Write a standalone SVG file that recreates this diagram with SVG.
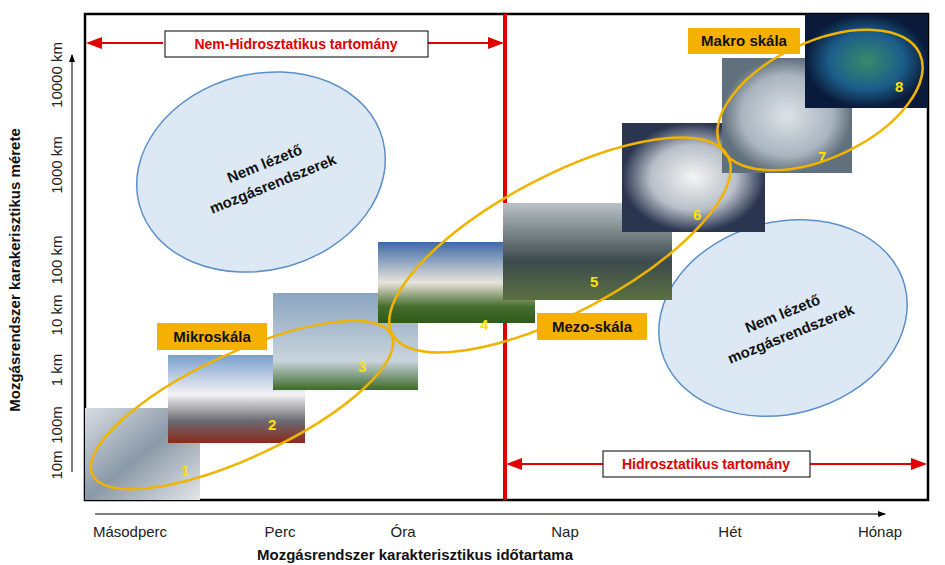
<svg xmlns="http://www.w3.org/2000/svg" width="945" height="565" viewBox="0 0 945 565">
<defs>
<style>
text{font-family:"Liberation Sans",Arial,sans-serif}
.ax{font-size:15px;fill:#222}
.num{font-size:15px;font-weight:bold;fill:#ffe000}
.lab{font-size:15px;font-weight:bold;fill:#111}
.red{font-size:14px;font-weight:bold;fill:#e00000}
.blue{fill:#dce9f4;stroke:#5b8fc9;stroke-width:1.5}
.yel{fill:none;stroke:#f0b400;stroke-width:2.5}
.tag{fill:#f5b000}
</style>
<marker id="ra" markerWidth="8" markerHeight="6" refX="7" refY="3" orient="auto-start-reverse"><path d="M0,0L8,3L0,6z" fill="#e00000"/></marker>
<marker id="ka" markerWidth="8" markerHeight="6" refX="7" refY="3" orient="auto"><path d="M0,0L8,3L0,6z" fill="#000"/></marker>
<linearGradient id="sky" x1="0" y1="0" x2="0" y2="1"><stop offset="0" stop-color="#8aa5c0"/><stop offset="0.7" stop-color="#c9d4dc"/><stop offset="1" stop-color="#3d6a2a"/></linearGradient>
<linearGradient id="mt" x1="0" y1="0" x2="0" y2="1"><stop offset="0" stop-color="#7aa0cf"/><stop offset="0.45" stop-color="#f2f2f2"/><stop offset="0.75" stop-color="#6a6a72"/><stop offset="1" stop-color="#8b2a1c"/></linearGradient>
<linearGradient id="cb" x1="0" y1="0" x2="0" y2="1"><stop offset="0" stop-color="#3c6aa8"/><stop offset="0.5" stop-color="#e8e4da"/><stop offset="0.8" stop-color="#456c2c"/><stop offset="1" stop-color="#2f5a1a"/></linearGradient>
<linearGradient id="sh" x1="0" y1="0" x2="0" y2="1"><stop offset="0" stop-color="#b9c3c8"/><stop offset="0.6" stop-color="#3d4a4d"/><stop offset="1" stop-color="#5a7040"/></linearGradient>
<radialGradient id="hu"><stop offset="0" stop-color="#f4f4f4"/><stop offset="0.6" stop-color="#b8bfc8"/><stop offset="1" stop-color="#2a3550"/></radialGradient>
<radialGradient id="cy"><stop offset="0" stop-color="#dde3e8"/><stop offset="0.7" stop-color="#a9b4bf"/><stop offset="1" stop-color="#60707c"/></radialGradient>
<radialGradient id="gl"><stop offset="0" stop-color="#3a8a6a"/><stop offset="0.6" stop-color="#1b5e8a"/><stop offset="1" stop-color="#0a1a3a"/></radialGradient>
<linearGradient id="sat" x1="0" y1="0" x2="1" y2="1"><stop offset="0" stop-color="#d8dde2"/><stop offset="0.5" stop-color="#8a99a8"/><stop offset="1" stop-color="#e4e6e8"/></linearGradient>
</defs>
<rect width="945" height="565" fill="#fff"/>
<g id="frame">
<rect x="85" y="14" width="843" height="486" fill="none" stroke="#000" stroke-width="2.5"/>
<line x1="505" y1="14" x2="505" y2="500" stroke="#e00000" stroke-width="4"/>
</g>
<g id="blue1"><ellipse cx="261" cy="172" rx="126" ry="98" transform="rotate(-15 261 172)" class="blue"/>
<text class="lab" text-anchor="middle" transform="rotate(-22 268 172)"><tspan x="268" y="168">Nem lézető</tspan><tspan x="268" y="190">mozgásrendszerek</tspan></text></g>
<g id="blue2"><ellipse cx="783" cy="318" rx="126" ry="96" transform="rotate(-15 783 318)" class="blue"/>
<text class="lab" text-anchor="middle" transform="rotate(-22 786 322)"><tspan x="786" y="318">Nem lézető</tspan><tspan x="786" y="340">mozgásrendszerek</tspan></text></g>
<g id="photos">
<rect x="85" y="408" width="115" height="92" fill="url(#sat)"/>
<rect x="168" y="355" width="137" height="88" fill="url(#mt)"/>
<rect x="273" y="293" width="145" height="97" fill="url(#sky)"/>
<rect x="378" y="242" width="157" height="81" fill="url(#cb)"/>
<rect x="503" y="203" width="169" height="97" fill="url(#sh)"/>
<rect x="622" y="123" width="143" height="109" fill="url(#hu)"/>
<rect x="722" y="58" width="130" height="115" fill="url(#cy)"/>
<rect x="805" y="14" width="123" height="94" fill="url(#gl)"/>
<text class="num" x="181" y="476">1</text><text class="num" x="268" y="430">2</text><text class="num" x="358" y="372">3</text>
<text class="num" x="480" y="330">4</text><text class="num" x="590" y="287">5</text><text class="num" x="693" y="220">6</text>
<text class="num" x="818" y="162">7</text><text class="num" x="895" y="92">8</text>
</g>
<g id="scales">
<ellipse cx="242" cy="405" rx="165" ry="52" transform="rotate(-25 242 405)" class="yel"/>
<ellipse cx="560" cy="245" rx="190" ry="68" transform="rotate(-28 560 245)" class="yel"/>
<ellipse cx="820" cy="100" rx="110" ry="58" transform="rotate(-25 820 100)" class="yel"/>
<rect class="tag" x="157" y="323" width="110" height="27"/><text class="lab" x="212" y="342" text-anchor="middle">Mikroskála</text>
<rect class="tag" x="537" y="313" width="110" height="27"/><text class="lab" x="592" y="332" text-anchor="middle">Mezo-skála</text>
<rect class="tag" x="688" y="28" width="112" height="26"/><text class="lab" x="744" y="46" text-anchor="middle">Makro skála</text>
</g>
<g id="connectors">
<line x1="88" y1="43" x2="163" y2="43" stroke="#e00000" stroke-width="2" marker-start="url(#ra)"/>
<line x1="428" y1="43" x2="502" y2="43" stroke="#e00000" stroke-width="2" marker-end="url(#ra)"/>
<line x1="508" y1="464" x2="603" y2="464" stroke="#e00000" stroke-width="2" marker-start="url(#ra)"/>
<line x1="810" y1="464" x2="925" y2="464" stroke="#e00000" stroke-width="2" marker-end="url(#ra)"/>
<line x1="72" y1="472" x2="72" y2="55" stroke="#000" stroke-width="1" marker-end="url(#ka)"/>
<line x1="95" y1="514" x2="885" y2="514" stroke="#000" stroke-width="1" marker-end="url(#ka)"/>
</g>
<g id="rangeLabels">
<rect x="165" y="31" width="263" height="26" fill="#fff" stroke="#000"/><text class="red" x="296" y="49" text-anchor="middle">Nem-Hidrosztatikus tartomány</text>
<rect x="603" y="451" width="207" height="26" fill="#fff" stroke="#000"/><text class="red" x="706" y="469" text-anchor="middle">Hidrosztatikus tartomány</text>
</g>
<g id="axes">
<g class="ax" text-anchor="middle">
<text transform="translate(62 465) rotate(-90)">10m</text>
<text transform="translate(62 425) rotate(-90)">100m</text>
<text transform="translate(62 370) rotate(-90)">1 km</text>
<text transform="translate(62 315) rotate(-90)">10 km</text>
<text transform="translate(62 260) rotate(-90)">100 km</text>
<text transform="translate(62 165) rotate(-90)">1000 km</text>
<text transform="translate(62 75) rotate(-90)">10000 km</text>
<text x="130" y="537">Másodperc</text><text x="280" y="537">Perc</text><text x="403" y="537">Óra</text>
<text x="565" y="537">Nap</text><text x="730" y="537">Hét</text><text x="880" y="537">Hónap</text>
</g>
<text class="lab" x="415" y="560" text-anchor="middle">Mozgásrendszer karakterisztikus időtartama</text>
<text class="lab" transform="translate(20 270) rotate(-90)" text-anchor="middle">Mozgásrendszer karakerisztikus mérete</text>
</g>
</svg>
